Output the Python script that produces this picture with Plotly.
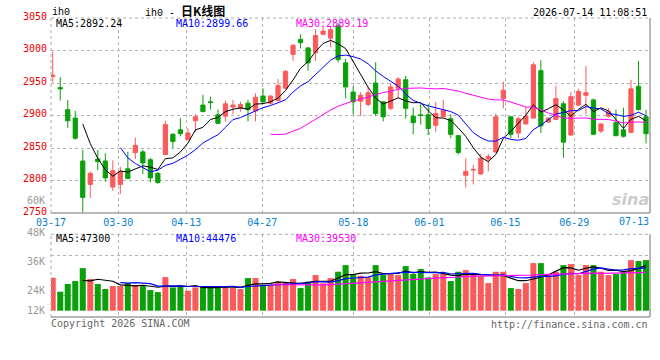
import numpy as np
import pandas as pd
import plotly.graph_objects as go

# ---------------- data ----------------
opens = [2960, 2943, 2909, 2896, 2830, 2794, 2833, 2830, 2790, 2794,
         2818, 2843, 2844, 2832, 2811, 2840, 2871, 2878, 2863, 2892,
         2916, 2921, 2901, 2899, 2913, 2911, 2919, 2907, 2930, 2919,
         2923, 2942, 2994, 3017, 3004, 2997, 3025, 3019, 3038, 2981,
         2936, 2922, 2917, 2950, 2921, 2911, 2942, 2955, 2899, 2901,
         2901, 2885, 2898, 2895, 2869, 2808, 2816, 2810, 2833, 2844,
         2926, 2898, 2873, 2887, 2896, 2969, 2890, 2894, 2918, 2870,
         2916, 2931, 2924, 2876, 2899, 2889, 2878, 2874, 2945, 2898]
highs = [2998, 2959, 2924, 2907, 2847, 2814, 2847, 2842, 2831, 2821,
         2844, 2866, 2847, 2835, 2813, 2892, 2873, 2896, 2880, 2902,
         2932, 2929, 2909, 2923, 2924, 2921, 2924, 2934, 2942, 2931,
         2956, 2970, 3010, 3025, 3005, 3033, 3036, 3036, 3042, 2987,
         2945, 2936, 2944, 2982, 2922, 2950, 2959, 2961, 2912, 2918,
         2918, 2921, 2924, 2902, 2870, 2834, 2824, 2841, 2841, 2903,
         2952, 2899, 2898, 2913, 2982, 2985, 2897, 2946, 2922, 2936,
         2941, 2976, 2926, 2888, 2911, 2909, 2912, 2955, 2984, 2909]
lows = [2951, 2923, 2881, 2863, 2750, 2773, 2816, 2798, 2784, 2779,
        2802, 2833, 2810, 2797, 2795, 2839, 2850, 2868, 2862, 2875,
        2905, 2909, 2887, 2891, 2902, 2906, 2891, 2891, 2920, 2917,
        2922, 2941, 2984, 3003, 2969, 2984, 3024, 3005, 2982, 2926,
        2902, 2899, 2914, 2899, 2891, 2908, 2927, 2895, 2871, 2886,
        2870, 2875, 2897, 2865, 2840, 2789, 2794, 2809, 2814, 2843,
        2911, 2865, 2865, 2886, 2895, 2873, 2889, 2893, 2835, 2869,
        2915, 2902, 2870, 2873, 2897, 2868, 2866, 2873, 2908, 2857]
closes = [2962, 2941, 2892, 2865, 2774, 2811, 2829, 2804, 2815, 2814,
          2803, 2854, 2827, 2804, 2797, 2886, 2860, 2872, 2873, 2898,
          2906, 2920, 2888, 2918, 2916, 2917, 2909, 2928, 2921, 2930,
          2946, 2968, 3008, 3012, 2981, 3023, 3030, 3032, 2986, 2944,
          2921, 2931, 2935, 2903, 2898, 2944, 2956, 2911, 2889, 2900,
          2880, 2903, 2908, 2871, 2843, 2814, 2817, 2834, 2837, 2898,
          2939, 2871, 2895, 2899, 2978, 2884, 2896, 2926, 2859, 2929,
          2937, 2935, 2871, 2887, 2906, 2869, 2868, 2941, 2909, 2872]
volumes = [34400, 19800, 27800, 30900, 44400, 33000, 27800, 22600, 25700, 25700,
           28800, 26700, 25700, 21500, 19400, 35000, 24300, 26700, 20800, 24300,
           24600, 24300, 25700, 25700, 23600, 22600, 34000, 34000, 25700, 26400,
           30200, 29100, 33000, 23600, 30200, 37100, 28500, 34000, 40600, 47500,
           37100, 36400, 34700, 47500, 37100, 38200, 37100, 46500, 38200, 43400,
           34700, 38200, 38200, 30900, 40600, 42300, 37100, 36100, 28800, 40600,
           40600, 23600, 22600, 28800, 49600, 49600, 37100, 40600, 47500, 48600,
           37100, 47500, 47500, 40600, 37100, 38200, 40600, 52700, 51700, 52700]

date_labels = ["03-17", "03-30", "04-13", "04-27", "05-18", "06-01", "06-15", "06-29"]
date_pos = [-0.22, 8.73, 17.79, 27.91, 40.03, 50.15, 60.27, 69.45]
last_date_label = "07-13"
last_date_pos = 77.4

price_ticks = [2750, 2800, 2850, 2900, 2950, 3000, 3050]
vol_axis_labels = ["60K", "48K", "36K", "24K", "12K"]
vol_axis_label_px = [200, 232, 261, 290, 310]

price_ma_text = ["MA5:2892.24", "MA10:2899.66", "MA30:2889.19"]
vol_ma_text = ["MA5:47300", "MA10:44476", "MA30:39530"]

# ---------------- styling ----------------
RED = "#fa5a5a"
GREEN = "#0aa00a"
MA_COLORS = ["#000000", "#0000ff", "#ff00ff"]
GRID = "#b4b4b4"
MONO = "DejaVu Sans Mono"

W, H = 660, 360
L, R, T, B = 51, 10, 18, 43


def pxx(x):
    return (x - L) / (W - L - R)


def pxy(y):
    return (H - B - y) / (H - T - B)


x = np.arange(len(closes))
cl = pd.Series(closes, dtype=float)
vo = pd.Series(volumes, dtype=float)
up = [c >= o for o, c in zip(opens, closes)]

fig = go.Figure()

fig.add_trace(go.Candlestick(
    x=x, open=opens, high=highs, low=lows, close=closes,
    increasing=dict(line=dict(color=RED, width=1), fillcolor=RED),
    decreasing=dict(line=dict(color=GREEN, width=1), fillcolor=GREEN),
    whiskerwidth=0, xaxis="x", yaxis="y", showlegend=False, hoverinfo="skip"))

for n, col in zip([5, 10, 30], MA_COLORS):
    fig.add_trace(go.Scatter(x=x, y=cl.rolling(n).mean(), mode="lines",
                             line=dict(color=col, width=1), xaxis="x", yaxis="y",
                             showlegend=False, hoverinfo="skip"))

fig.add_trace(go.Bar(x=x, y=volumes, marker=dict(color=[RED if u else GREEN for u in up], line=dict(width=0)),
                     xaxis="x2", yaxis="y2", showlegend=False, hoverinfo="skip"))

for n, col in zip([5, 10, 30], MA_COLORS):
    fig.add_trace(go.Scatter(x=x, y=vo.rolling(n).mean(), mode="lines",
                             line=dict(color=col, width=1.2), xaxis="x2", yaxis="y2",
                             showlegend=False, hoverinfo="skip"))

# volume scale: base (0) sits at y=310.7 px, ~1042 units per px
VOL_PER_PX = 1042.0
vol_base_px = 310.7
vol_bottom_px, vol_top_px = 317.0, 234.3
vol_range = [-(vol_bottom_px - vol_base_px) * VOL_PER_PX, (vol_base_px - vol_top_px) * VOL_PER_PX]
vol_grid_vals = [(vol_base_px - g) * VOL_PER_PX for g in (255.0, 295.0)]

xrange_ = [-0.23, len(closes) - 1 + 0.53]
price_dom = [pxy(213), 1.0]
vol_dom = [0.0, pxy(vol_top_px)]

common_x = dict(range=xrange_, tickmode="array", tickvals=date_pos, showgrid=True,
                gridcolor=GRID, griddash="dot", gridwidth=1, zeroline=False,
                showline=False, ticks="", fixedrange=True)

fig.update_layout(
    width=W, height=H, margin=dict(l=L, r=R, t=T, b=B),
    paper_bgcolor="white", plot_bgcolor="white",
    boxgap=0.2, bargap=0.2,
    xaxis=dict(common_x, domain=[0, 1], anchor="y", ticktext=date_labels,
               tickfont=dict(family=MONO, size=10, color="#0a7fd0"),
               ticklabelstandoff=2, rangeslider=dict(visible=False)),
    yaxis=dict(domain=price_dom, range=[2750, 3050], tickmode="array",
               tickvals=price_ticks, ticktext=[str(v) for v in price_ticks],
               tickfont=dict(family=MONO, size=10, color="#ee0000"),
               showgrid=True, gridcolor=GRID, griddash="dot", zeroline=False,
               ticks="", ticklabelstandoff=3, ticklabelshift=-2, anchor="x"),
    xaxis2=dict(common_x, domain=[0, 1], anchor="y2", showticklabels=False),
    yaxis2=dict(domain=vol_dom, range=vol_range, tickmode="array", tickvals=vol_grid_vals,
                showticklabels=False, showgrid=True, gridcolor=GRID, griddash="dot",
                zeroline=False, ticks="", anchor="x2"),
)

# panel borders
shapes = []
for xr, yr in (("x domain", "y domain"), ("x2 domain", "y2 domain")):
    shapes += [
        dict(type="line", xref=xr, yref=yr, x0=0, x1=1, y0=1, y1=1, line=dict(color="#aaaaaa", width=1, dash="dot")),
        dict(type="line", xref=xr, yref=yr, x0=0, x1=0, y0=0, y1=1, line=dict(color="#aaaaaa", width=1, dash="dot")),
        dict(type="line", xref=xr, yref=yr, x0=0, x1=1, y0=0, y1=0, line=dict(color="#a0a0a0", width=1.5)),
        dict(type="line", xref=xr, yref=yr, x0=1, x1=1, y0=0, y1=1, line=dict(color="#a0a0a0", width=1.5)),
    ]
fig.update_layout(shapes=shapes)

ann = []


def text(t, xp, yp, color="#000000", size=10, family=MONO, xanchor="left"):
    ann.append(dict(text=t, x=pxx(xp), y=pxy(yp), xref="paper", yref="paper",
                    xanchor=xanchor, yanchor="middle", showarrow=False,
                    font=dict(family=family, size=size, color=color)))


text("ih0", 50, 12, family="Liberation Mono", size=10)
text("ih0 - <b><span style='font-family:Noto Sans CJK SC;font-size:12px'>日K线图</span></b>", 185, 10,
     family="Liberation Mono", size=10, xanchor="center")
text("2026-07-14 11:08:51", 649, 12, xanchor="right")
for t, xp, col in zip(price_ma_text, [54, 174, 294], MA_COLORS):
    text(t, xp, 24, color=col)
for t, xp, col in zip(vol_ma_text, [54, 174, 294], MA_COLORS):
    text(t, xp, 238, color=col)
for t, yp in zip(vol_axis_labels, vol_axis_label_px):
    text(t, 46.5, yp, color="#999999", xanchor="right")
text("Copyright 2026 SINA.COM", 49, 323.5, color="#666666")
text("http://finance.sina.com.cn", 650, 324, color="#666666", xanchor="right")
# last date label (no grid line in the reference)
ann.append(dict(text=last_date_label, x=last_date_pos, y=pxy(221), xref="x", yref="paper",
                xanchor="center", yanchor="middle", showarrow=False,
                font=dict(family=MONO, size=10, color="#0a7fd0")))
# sina watermark
text("<b><i>sina</i></b>", 651, 199, color="#cccccc", size=16, family="DejaVu Sans", xanchor="right")

fig.update_layout(annotations=ann)

fig.write_html("out.html")
